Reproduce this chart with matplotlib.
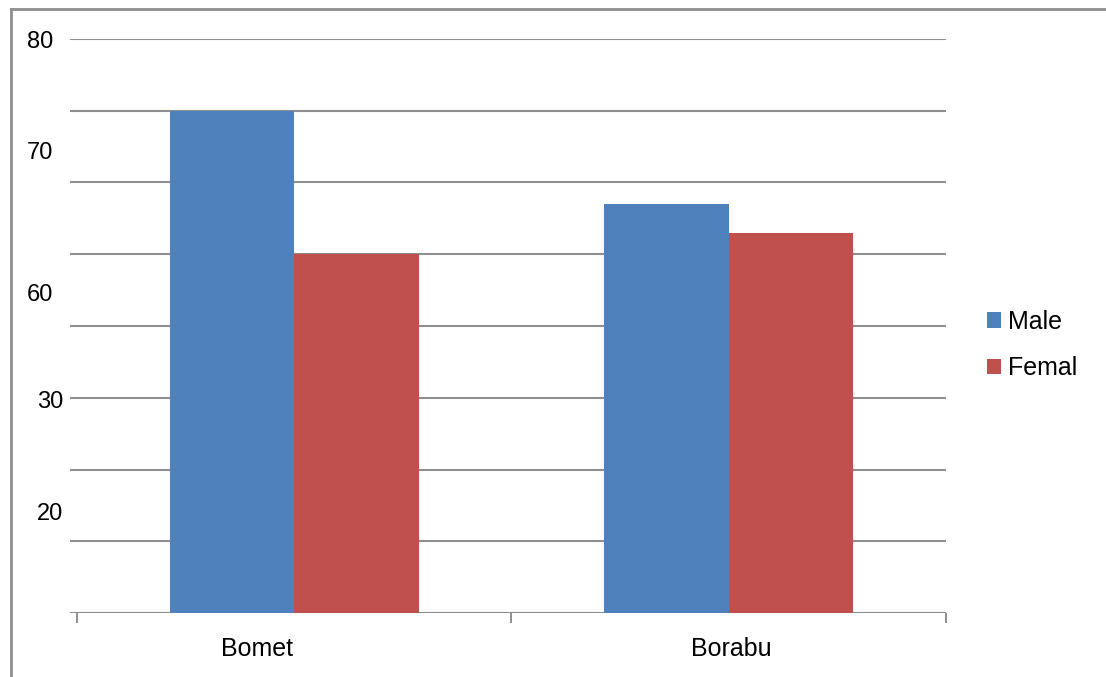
import matplotlib
matplotlib.use("Agg")
import matplotlib.pyplot as plt
from matplotlib.lines import Line2D
from matplotlib.patches import Patch
import numpy as np

plt.rcParams['font.family'] = ['Liberation Sans', 'DejaVu Sans']

# Data
regions = ["Bomet", "Borabu"]
male = [70, 57]
female = [50, 53]
series_names = ["Male", "Femal"]
ytick_values = [80, 64.4, 44.6, 29.8, 14.2]
ytick_labels = ["80", "70", "60", "30", "20"]

colors = ["#4F81BD", "#C0504D"]
grid_color = "#8e8e8e"

fig = plt.figure(figsize=(11.06, 6.77), dpi=100)
ax = fig.add_axes([70 / 1106, 1 - 613 / 677, 876 / 1106, (613 - 39) / 677])

x = np.arange(len(regions))
width = 0.2865
ax.bar(x - width / 2, male, width, color=colors[0], zorder=3)
ax.bar(x + width / 2, female, width, color=colors[1], zorder=3)

ax.set_xlim(-0.5161, 1.5)
ax.set_ylim(0, 80)

# Horizontal gridlines every 10 units
for v in range(0, 81, 10):
    ax.axhline(v, color=grid_color, lw=1.5, zorder=1)

for s in ax.spines.values():
    s.set_visible(False)

# Y labels
ax.set_yticks(ytick_values)
ax.set_yticklabels(ytick_labels, fontsize=17)
ax.tick_params(axis='y', length=0)
for i, t in enumerate(ax.yaxis.get_major_ticks()):
    t.set_pad(12.0 if i < 3 else 5.0)

# Category boundaries as minor ticks, names as major labels
ax.set_xticks([-0.5, 0.5, 1.5], minor=True)
ax.tick_params(axis='x', which='minor', length=7.5, width=1.4, color=grid_color)
label_shift = [-0.0857, 0.005]
ax.set_xticks(x + np.array(label_shift))
ax.set_xticklabels(regions, fontsize=18)
ax.tick_params(axis='x', which='major', length=0, pad=17)

# Legend
handles = [Patch(facecolor=c, edgecolor='none') for c in colors]
fig.legend(handles, series_names, loc='center left',
           bbox_to_anchor=(977 / 1106, 1 - 345 / 677), frameon=False,
           fontsize=18, handlelength=0.56, handleheight=0.56,
           handletextpad=0.3, labelspacing=0.9, borderaxespad=0)

# Outer frame (top and left edges)
fig.add_artist(Line2D([11 / 1106, 1.0], [1 - 8.5 / 677, 1 - 8.5 / 677],
                      color=grid_color, lw=2, transform=fig.transFigure))
fig.add_artist(Line2D([11 / 1106, 11 / 1106], [0, 1 - 8.5 / 677],
                      color=grid_color, lw=2, transform=fig.transFigure))

fig.savefig("out.png", dpi=100)
